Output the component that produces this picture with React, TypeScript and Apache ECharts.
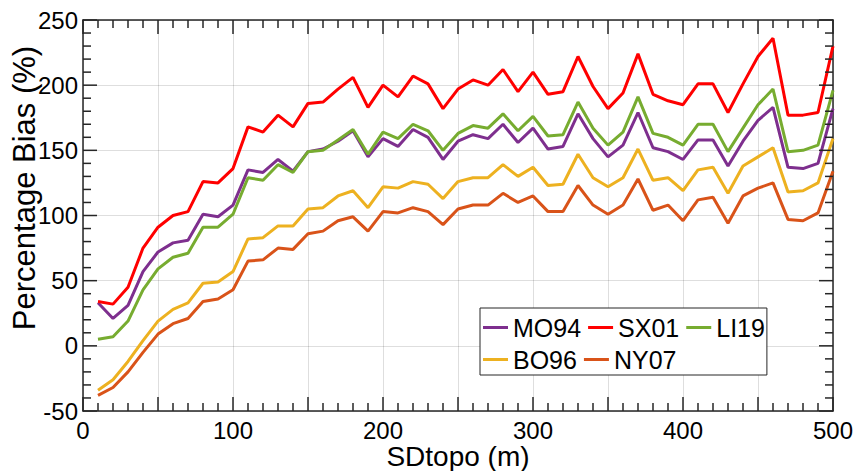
import React, { useEffect, useRef } from "react";
import * as echarts from "echarts";

const sdTopo = [
  10, 20, 30, 40, 50, 60, 70, 80, 90, 100,
  110, 120, 130, 140, 150, 160, 170, 180, 190, 200,
  210, 220, 230, 240, 250, 260, 270, 280, 290, 300,
  310, 320, 330, 340, 350, 360, 370, 380, 390, 400,
  410, 420, 430, 440, 450, 460, 470, 480, 490, 500,
];

const mo94 = [
  33, 21, 31, 57, 72, 79, 81, 101, 99, 108,
  135, 133, 143, 134, 149, 151, 157, 165, 145, 159,
  153, 166, 160, 143, 157, 162, 159, 170, 156, 167,
  151, 153, 178, 159, 145, 154, 179, 152, 149, 143,
  158, 158, 138, 157, 173, 183, 137, 136, 140, 182,
];

const sx01 = [
  34, 32, 45, 75, 91, 100, 103, 126, 125, 136,
  168, 164, 177, 168, 186, 187, 197, 206, 183, 200,
  191, 207, 201, 182, 197, 204, 200, 212, 195, 210,
  193, 195, 222, 199, 182, 194, 224, 193, 188, 185,
  201, 201, 179, 201, 222, 236, 177, 177, 179, 230,
];

const li19 = [
  5, 7, 19, 43, 59, 68, 71, 91, 91, 101,
  129, 127, 139, 133, 149, 150, 158, 166, 147, 164,
  159, 170, 165, 150, 163, 169, 167, 178, 165, 176,
  161, 162, 187, 167, 154, 164, 191, 163, 160, 154,
  170, 170, 149, 167, 185, 197, 149, 150, 154, 196,
];

const bo96 = [
  -34, -26, -12, 4, 19, 28, 33, 48, 49, 57,
  82, 83, 92, 92, 105, 106, 115, 119, 106, 122,
  121, 126, 124, 113, 126, 129, 129, 139, 130, 137,
  123, 124, 147, 129, 122, 129, 151, 127, 129, 119,
  135, 137, 117, 138, 145, 152, 118, 119, 125, 159,
];

const ny07 = [
  -38, -32, -20, -5, 9, 17, 21, 34, 36, 43,
  65, 66, 75, 74, 86, 88, 96, 99, 88, 103,
  102, 106, 103, 93, 105, 108, 108, 117, 110, 115,
  103, 103, 123, 108, 101, 108, 128, 104, 108, 96,
  112, 114, 94, 115, 121, 125, 97, 96, 102, 134,
];

// tick positions (major every 50, minor every 10)
const xTickValues = [
  0, 10, 20, 30, 40, 50, 60, 70, 80, 90, 100,
  110, 120, 130, 140, 150, 160, 170, 180, 190, 200,
  210, 220, 230, 240, 250, 260, 270, 280, 290, 300,
  310, 320, 330, 340, 350, 360, 370, 380, 390, 400,
  410, 420, 430, 440, 450, 460, 470, 480, 490, 500,
];
const yTickValues = [
  -50, -40, -30, -20, -10, 0, 10, 20, 30, 40, 50,
  60, 70, 80, 90, 100, 110, 120, 130, 140, 150,
  160, 170, 180, 190, 200, 210, 220, 230, 240, 250,
];

const X_MIN = 0;
const X_MAX = 500;
const Y_MIN = -50;
const Y_MAX = 250;

const seriesDefs = [
  { name: "MO94", data: mo94, color: "#7E2F8E" },
  { name: "SX01", data: sx01, color: "#FF0000" },
  { name: "LI19", data: li19, color: "#77AC30" },
  { name: "BO96", data: bo96, color: "#EDB120" },
  { name: "NY07", data: ny07, color: "#D95319" },
];

const FONT = "'Liberation Sans', Arial, Helvetica, sans-serif";
const AXIS_COLOR = "#262626";
const MAJOR_LEN = 14;
const MINOR_LEN = 8;

export default function App() {
  const ref = useRef<HTMLDivElement>(null);

  useEffect(() => {
    document.body.style.margin = "0";
    if (!ref.current) return;
    const chart = echarts.init(ref.current, undefined, { renderer: "svg" });

    const axisCommon = {
      axisLine: { show: true, onZero: false, lineStyle: { color: AXIS_COLOR, width: 1.5 } },
      axisTick: { show: false },
      minorTick: { show: false },
    };

    const titleGraphics = [
      {
        type: "text",
        x: 24,
        y: 188,
        rotation: Math.PI / 2,
        style: {
          text: "Percentage Bias (%)",
          fontSize: 31,
          fontFamily: FONT,
          fill: "#000",
          align: "center",
          verticalAlign: "middle",
        },
      },
      {
        type: "text",
        x: 458,
        y: 456,
        style: {
          text: "SDtopo (m)",
          fontSize: 28,
          fontFamily: FONT,
          fill: "#000",
          align: "center",
          verticalAlign: "middle",
        },
      },
    ];

    chart.setOption({
      animation: false,
      backgroundColor: "#ffffff",
      textStyle: { fontFamily: FONT },
      grid: {
        left: 83,
        right: 24,
        top: 20,
        bottom: 60,
        containLabel: false,
        outerBoundsMode: "none",
      },
      legend: {
        left: 480,
        top: 308,
        orient: "horizontal",
        width: 400,
        data: ["MO94", "SX01", "LI19", "\n", "BO96", "NY07"],
        icon: "rect",
        itemWidth: 25,
        itemHeight: 3,
        itemGap: 7,
        padding: [7, 2, 3, 3],
        borderColor: AXIS_COLOR,
        borderWidth: 1,
        backgroundColor: "#ffffff",
        textStyle: { fontSize: 25, lineHeight: 22, color: "#000", fontFamily: FONT },
      },
      graphic: titleGraphics,
      xAxis: [
        {
          type: "value",
          min: X_MIN,
          max: X_MAX,
          interval: 50,
          position: "bottom",
          ...axisCommon,
          axisLabel: {
            fontSize: 24,
            color: "#000",
            margin: 7,
            fontFamily: FONT,
            formatter: (v: number) => (v % 100 === 0 ? String(v) : ""),
          },
          splitLine: { show: true, lineStyle: { color: "rgba(0,0,0,0.13)", width: 1 } },
        },
        {
          type: "value",
          min: X_MIN,
          max: X_MAX,
          interval: 50,
          position: "top",
          ...axisCommon,
          axisLabel: { show: false },
          splitLine: { show: false },
        },
      ],
      yAxis: [
        {
          type: "value",
          min: Y_MIN,
          max: Y_MAX,
          interval: 50,
          position: "left",
          ...axisCommon,
          axisLabel: { fontSize: 24, color: "#000", margin: 5, fontFamily: FONT },
          splitLine: { show: true, lineStyle: { color: "rgba(0,0,0,0.13)", width: 1 } },
        },
        {
          type: "value",
          min: Y_MIN,
          max: Y_MAX,
          interval: 50,
          position: "right",
          ...axisCommon,
          axisLabel: { show: false },
          splitLine: { show: false },
        },
      ],
      series: seriesDefs.map((s) => ({
        name: s.name,
        type: "line",
        xAxisIndex: 0,
        yAxisIndex: 0,
        symbol: "none",
        showSymbol: false,
        z: 3,
        lineStyle: { width: 3, color: s.color },
        itemStyle: { color: s.color },
        data: sdTopo.map((x, i) => [x, s.data[i]]),
      })),
    });

    // Tick marks on all four sides, placed through the chart's own scales.
    const toPx = (v: [number, number]) =>
      chart.convertToPixel({ gridIndex: 0 }, v) as number[];
    const tickStyle = { stroke: AXIS_COLOR, lineWidth: 1.5 };
    const tickGraphics: any[] = [];
    xTickValues.forEach((v) => {
      const len = v % 50 === 0 ? MAJOR_LEN : MINOR_LEN;
      const b = toPx([v, Y_MIN]);
      const t = toPx([v, Y_MAX]);
      tickGraphics.push({
        type: "line",
        z: 100,
        silent: true,
        shape: { x1: b[0], y1: b[1], x2: b[0], y2: b[1] - len },
        style: tickStyle,
      });
      tickGraphics.push({
        type: "line",
        z: 100,
        silent: true,
        shape: { x1: t[0], y1: t[1], x2: t[0], y2: t[1] + len },
        style: tickStyle,
      });
    });
    yTickValues.forEach((v) => {
      const len = v % 50 === 0 ? MAJOR_LEN : MINOR_LEN;
      const l = toPx([X_MIN, v]);
      const r = toPx([X_MAX, v]);
      tickGraphics.push({
        type: "line",
        z: 100,
        silent: true,
        shape: { x1: l[0], y1: l[1], x2: l[0] + len, y2: l[1] },
        style: tickStyle,
      });
      tickGraphics.push({
        type: "line",
        z: 100,
        silent: true,
        shape: { x1: r[0], y1: r[1], x2: r[0] - len, y2: r[1] },
        style: tickStyle,
      });
    });

    chart.setOption({ graphic: [...titleGraphics, ...tickGraphics] });

    return () => chart.dispose();
  }, []);

  return <div ref={ref} style={{ width: 857, height: 471 }} />;
}
